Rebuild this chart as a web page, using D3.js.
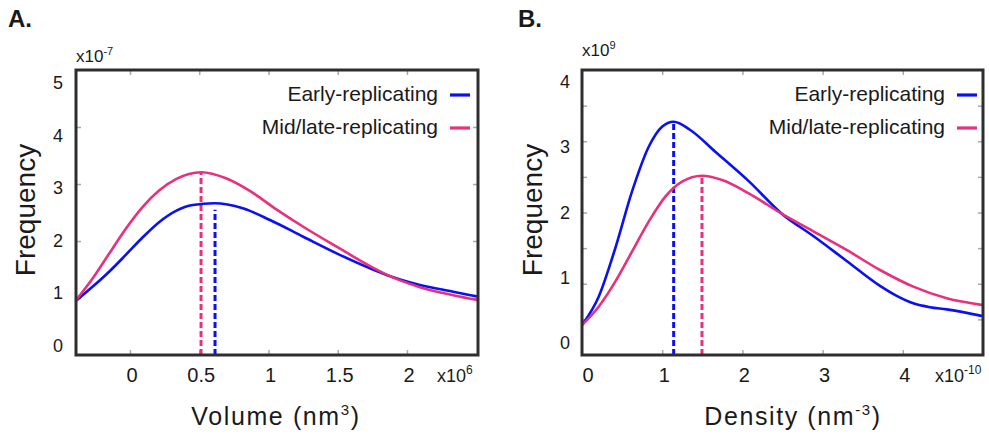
<!DOCTYPE html>
<html>
<head>
<meta charset="utf-8">
<script src="https://cdn.jsdelivr.net/npm/d3@7"></script>
<style>
  body { margin: 0; background: #fff; }
  text { font-family: "Liberation Sans", Arial, sans-serif; fill: #1a1a1a; }
</style>
</head>
<body>
<svg id="chart" width="989" height="439"></svg>
<script>
(function () {
  "use strict";

  const seriesNames = ["Early-replicating", "Mid/late-replicating"];
  const colors = ["#0a10f2", "#e8307c"];

  // A. volume (x in 1e6 nm^3, y in 1e-7)
  const volEarlyX = [-0.39, -0.269, -0.149, -0.029, 0.092, 0.212, 0.332, 0.453, 0.609, 0.814, 1.011, 1.251, 1.492, 1.733, 1.853, 2.094, 2.334, 2.52];
  const volEarlyY = [0.95, 1.2, 1.465, 1.76, 2.065, 2.335, 2.53, 2.632, 2.661, 2.574, 2.368, 2.075, 1.784, 1.521, 1.404, 1.228, 1.111, 1.02];
  const volLateX = [-0.39, -0.269, -0.149, -0.029, 0.092, 0.212, 0.332, 0.513, 0.693, 0.874, 1.054, 1.251, 1.492, 1.733, 1.853, 2.094, 2.334, 2.52];
  const volLateY = [0.96, 1.346, 1.784, 2.22, 2.6, 2.89, 3.085, 3.205, 3.1, 2.865, 2.56, 2.25, 1.9, 1.56, 1.41, 1.19, 1.05, 0.96];
  const volPeakX = [0.614, 0.513];
  const volPeakY = [2.55, 3.2];
  const volXTicks = [0, 0.5, 1, 1.5, 2];
  const volYTicks = [0, 1, 2, 3, 4, 5];

  // B. density (x in 1e-10 nm^-3, y in 1e9)
  const denEarlyX = [0.0, 0.208, 0.415, 0.623, 0.832, 0.998, 1.143, 1.35, 1.662, 2.079, 2.494, 2.884, 3.3, 3.716, 3.924, 4.131, 4.339, 4.547, 5.0];
  const denEarlyY = [0.42, 0.818, 1.498, 2.292, 2.923, 3.204, 3.274, 3.158, 2.853, 2.44, 1.98, 1.67, 1.32, 0.97, 0.83, 0.725, 0.67, 0.64, 0.545];
  const denLateX = [0.0, 0.208, 0.415, 0.623, 0.832, 1.039, 1.247, 1.496, 1.746, 2.079, 2.494, 2.884, 3.3, 3.716, 4.131, 4.547, 5.0];
  const denLateY = [0.42, 0.678, 1.029, 1.45, 1.871, 2.222, 2.432, 2.516, 2.456, 2.269, 1.98, 1.735, 1.474, 1.193, 0.959, 0.796, 0.7];
  const denPeakX = [1.143, 1.496];
  const denPeakY = [3.27, 2.51];
  const denXTicks = [0, 1, 2, 3, 4];
  const denYTicks = [0, 1, 2, 3, 4];

  const svg = d3.select("#chart");

  const panels = [
    {
      letter: "A.", letterX: 8,
      left: 76, right: 478, top: 70, bottom: 355,
      xDomain: [-0.39, 2.513], yDomain: [0, 5],
      xTickMarks: volXTicks, yTickMarks: [1, 2, 3, 4],
      xTicks: volXTicks, yTicks: volYTicks,
      yLabelRange: [352, 89], yLabelX: 58,
      yExp: "-7", yExpBaseline: 62,
      xExp: "6", xExpX: 437,
      xTitle: "Volume (nm", xTitleSup: "3", xTitleX: 276,
      freqX: 35,
      series: [[volEarlyX, volEarlyY], [volLateX, volLateY]],
      peaks: [volPeakX, volPeakY],
      legendRight: 438
    },
    {
      letter: "B.", letterX: 518,
      left: 582, right: 983, top: 70, bottom: 355,
      xDomain: [0, 5], yDomain: [0, 4],
      xTickMarks: [1, 2, 3, 4], yTickMarks: [0.5, 1, 1.5, 2, 2.5, 3, 3.5],
      xTicks: denXTicks, yTicks: denYTicks,
      yLabelRange: [349, 88], yLabelX: 565,
      yExp: "9", yExpBaseline: 56,
      xExp: "-10", xExpX: 935,
      xTitle: "Density (nm", xTitleSup: "-3", xTitleX: 793,
      freqX: 542,
      series: [[denEarlyX, denEarlyY], [denLateX, denLateY]],
      peaks: [denPeakX, denPeakY],
      legendRight: 945
    }
  ];

  panels.forEach((p, pi) => drawPanel(p, pi));

  function drawPanel(p, pi) {
    const x = d3.scaleLinear().domain(p.xDomain).range([p.left, p.right]);
    const y = d3.scaleLinear().domain(p.yDomain).range([p.bottom, p.top]);
    // tick labels sit a bit tighter than the tick marks in the original
    const yLab = d3.scaleLinear().domain([0, d3.max(p.yTicks)]).range(p.yLabelRange);
    const g = svg.append("g");

    svg.append("clipPath").attr("id", "clip" + pi)
      .append("rect")
      .attr("x", p.left).attr("y", p.top)
      .attr("width", p.right - p.left).attr("height", p.bottom - p.top);

    // inward tick marks on all four sides
    const tickStyle = (sel) => {
      sel.select(".domain").remove();
      sel.selectAll(".tick line").attr("stroke", "#a8a8a8").attr("stroke-width", 1.5);
    };
    g.append("g").attr("transform", `translate(0,${p.bottom})`)
      .call(d3.axisBottom(x).tickValues(p.xTickMarks).tickSize(-5).tickFormat(""))
      .call(tickStyle);
    g.append("g").attr("transform", `translate(0,${p.top})`)
      .call(d3.axisTop(x).tickValues(p.xTickMarks).tickSize(-5).tickFormat(""))
      .call(tickStyle);
    g.append("g").attr("transform", `translate(${p.left},0)`)
      .call(d3.axisLeft(y).tickValues(p.yTickMarks).tickSize(-5).tickFormat(""))
      .call(tickStyle);
    g.append("g").attr("transform", `translate(${p.right},0)`)
      .call(d3.axisRight(y).tickValues(p.yTickMarks).tickSize(-5).tickFormat(""))
      .call(tickStyle);

    // dashed peak markers
    const plot = g.append("g").attr("clip-path", `url(#clip${pi})`);
    p.peaks[0].forEach((px, i) => {
      plot.append("line")
        .attr("x1", x(px)).attr("x2", x(px))
        .attr("y1", y(0)).attr("y2", y(p.peaks[1][i]))
        .attr("stroke", colors[i])
        .attr("stroke-width", 3)
        .attr("stroke-dasharray", "6,3");
    });

    // curves
    const line = d3.line()
      .x((d) => x(d[0]))
      .y((d) => y(d[1]))
      .curve(d3.curveMonotoneX);
    p.series.forEach((s, i) => {
      const pts = s[0].map((v, k) => [v, s[1][k]]);
      plot.append("path")
        .datum(pts)
        .attr("d", line)
        .attr("fill", "none")
        .attr("stroke", colors[i])
        .attr("stroke-width", 2.6);
    });

    // frame
    g.append("rect")
      .attr("x", p.left).attr("y", p.top)
      .attr("width", p.right - p.left).attr("height", p.bottom - p.top)
      .attr("fill", "none")
      .attr("stroke", "#2e2e2e")
      .attr("stroke-width", 3);

    // y tick labels
    g.selectAll(".ylab")
      .data(p.yTicks)
      .join("text")
      .attr("x", p.yLabelX)
      .attr("y", (d) => yLab(d))
      .attr("text-anchor", "middle")
      .style("font-size", "18px")
      .text((d) => d);

    // x tick labels
    g.selectAll(".xlab")
      .data(p.xTicks)
      .join("text")
      .attr("x", (d) => Math.max(x(d) + 2, p.left + 6))
      .attr("y", 382)
      .attr("text-anchor", "middle")
      .style("font-size", "20px")
      .text((d) => d);

    // exponents
    const ye = g.append("text").attr("x", p.left).attr("y", p.yExpBaseline).style("font-size", "17px");
    ye.append("tspan").text("x10");
    ye.append("tspan").attr("dy", -7).style("font-size", "11px").text(p.yExp);

    const xe = g.append("text").attr("x", p.xExpX).attr("y", 382).style("font-size", "18px");
    xe.append("tspan").text("x10");
    xe.append("tspan").attr("dy", -8).style("font-size", "12px").text(p.xExp);

    // titles
    const xt = g.append("text").attr("x", p.xTitleX).attr("y", 425)
      .attr("text-anchor", "middle")
      .style("font-size", "25px")
      .style("letter-spacing", "1.6px");
    xt.append("tspan").text(p.xTitle);
    xt.append("tspan").attr("dy", -10).style("font-size", "15px").text(p.xTitleSup);
    xt.append("tspan").attr("dy", 10).text(")");

    g.append("text")
      .attr("transform", `translate(${p.freqX},210) rotate(-90)`)
      .attr("text-anchor", "middle")
      .style("font-size", "28px")
      .text("Frequency");

    g.append("text")
      .attr("x", p.letterX).attr("y", 27)
      .style("font-size", "24px").style("font-weight", "bold")
      .text(p.letter);

    // legend
    seriesNames.forEach((name, i) => {
      const ly = [95, 128][i];
      g.append("text")
        .attr("x", p.legendRight).attr("y", ly + 6)
        .attr("text-anchor", "end")
        .style("font-size", "21px")
        .text(name);
      g.append("line")
        .attr("x1", p.legendRight + 12).attr("x2", p.legendRight + 32)
        .attr("y1", ly).attr("y2", ly)
        .attr("stroke", colors[i]).attr("stroke-width", 3.2);
    });
  }
})();
</script>
</body>
</html>
